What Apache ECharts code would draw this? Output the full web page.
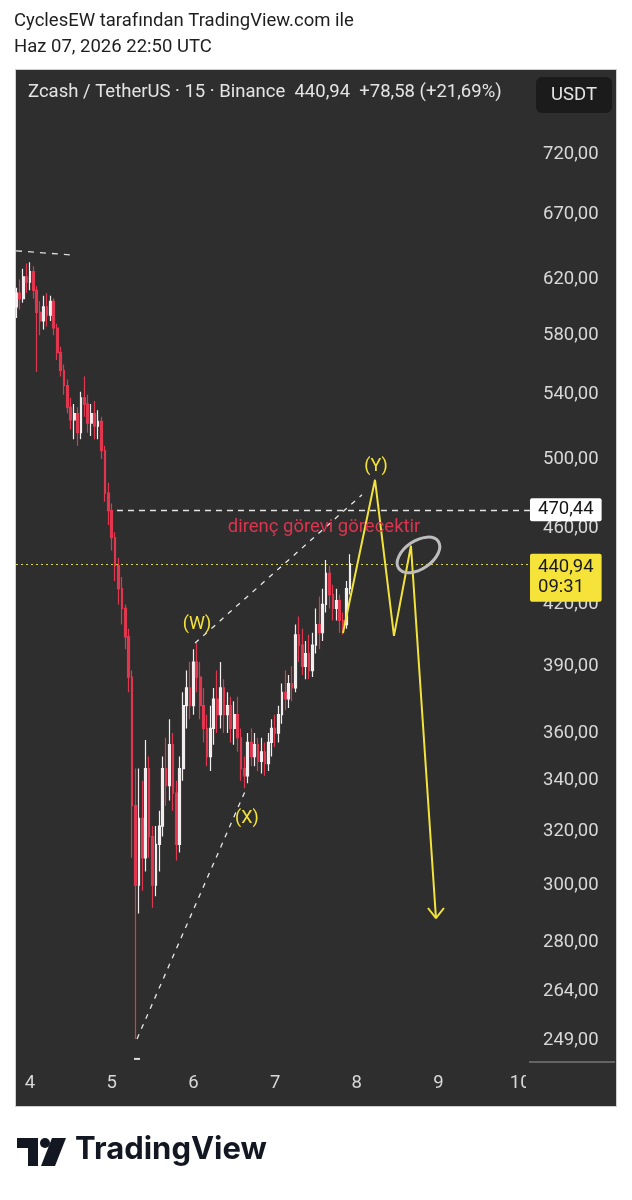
<!DOCTYPE html>
<html><head><meta charset="utf-8">
<script src="https://cdn.jsdelivr.net/npm/echarts@6/dist/echarts.min.js"></script>
<style>
html,body{margin:0;padding:0;background:#fff;}
#box{position:absolute;left:15px;top:69px;width:600px;height:1036px;background:#2e2e2e;border:1px solid #cfcfcf;}
#c{position:absolute;left:0;top:0;width:632px;height:1200px;}
</style></head><body>
<div id="box"></div>
<div id="c"></div>
<script>
// ---- data (ZEC/USDT, hourly approximation of the 15m chart, June 2026 day-of-month on x) ----
const startDay = 3.8333;           // June 3, 20:00 UTC
const stepDay = 1 / 24;            // one hour
const open = [600,610,606,622,618,626,612,596,590,600, 594,604,585,568,556,546,532,524,528,516,
  538,534,522,528,520,523,505,480,470,455, 440,428,418,404,385,330,300,325,310,345,
  318,300,315,322,345,338,355,335,315,345, 372,380,372,392,385,372,362,350,362,375,
  368,380,368,372,362,368,358,345,342,356, 350,355,348,352,347,356,362,360,368,378,
  375,382,380,405,400,390,396,388,400,410, 406,420,436,425,418,422,412,410,428];
const close = [610,606,622,618,626,612,596,590,600,594, 604,585,568,556,546,532,524,528,516,538,
  534,522,528,520,523,505,480,470,455,440, 428,418,404,385,330,300,325,310,345,318,
  300,315,322,345,338,355,335,315,345,372, 380,372,392,385,372,362,350,362,375,368,
  380,368,372,362,368,358,345,342,356,350, 355,348,352,347,356,362,360,368,378,375,
  382,380,405,400,390,396,388,400,410,406, 420,436,425,418,422,412,410,428,440.94];
const low = [592,598,603,610,612,606,555,580,584,586, 590,580,563,552,540,528,518,512,508,512,
  526,516,514,512,512,500,475,462,448,432, 420,410,398,378,310,249.5,290,298,305,310,
  292,296,305,318,330,332,328,309,312,340, 362,366,368,378,366,356,346,344,355,360,
  362,360,360,356,355,352,340,337,339,346, 346,344,343,342,344,350,354,356,364,370,
  371,374,378,392,386,384,384,385,396,398, 402,416,418,412,412,406,405,408,425];
const high = [614,620,628,632,633,630,615,604,608,610, 608,606,588,572,560,550,538,534,532,542,
  552,540,534,536,530,526,508,486,474,458, 444,434,420,408,388,345,345,340,357,350,
  322,322,328,350,358,366,360,340,350,378, 388,392,398,401,392,380,368,372,380,388,
  392,384,378,376,374,376,362,350,360,362, 360,358,358,356,360,366,368,372,382,388,
  386,390,410,414,408,402,405,406,418,424, 428,443,440,430,428,425,416,432,446];

const xTicks = [4,5,6,7,8,9,10];
const yTicks = [720,670,620,580,540,500,460,420,390,360,340,320,300,280,264,249];
const lastPrice = 440.94;
const resLevel = 470.44;
const resStartDay = 5.065;

// annotation drawings (day, price)
const topDashT = [3.829, 4.49],  topDashV = [641.7, 638.6];
const lowerWaveT = [5.31, 6.656], lowerWaveV = [249.5, 337.5];
const upperWaveT = [6.02, 8.064], upperWaveV = [401, 479];
const projT = [7.831, 8.223, 8.455, 8.663, 8.969], projV = [405.9, 487.7, 404.5, 450.6, 288.4];
const arrowT = [8.871, 8.969, 9.067], arrowV = [291.9, 288.4, 291.9];
const waveLabels = ['(W)', '(X)', '(Y)'];
const waveLabelT = [6.044, 6.656, 8.235], waveLabelV = [409.8, 325.1, 495.3];
const noteText = 'direnç görevi görecektir';
const noteT = 7.599, noteV = 460.9;
const circleT = 8.755, circleV = 445.7;
const lowMarkT = 5.31, lowMarkV = 243.6;

// ---- chart ----
const X_MIN = 3.829, X_MAX = 10.12;
const fmt = v => v.toFixed(2).replace('.', ',');
const times = open.map((_, i) => startDay + i * stepDay);
const candleData = open.map((o, i) => [times[i], o, close[i], low[i], high[i]]);
const pts = (ts, vs) => ts.map((t, i) => [t, vs[i]]);
const lineSeries = (ts, vs, color, type, width) => ({
  type: 'line', data: pts(ts, vs), symbol: 'none', silent: true, z: 4, clip: false,
  lineStyle: { color: color, type: type, width: width }
});
const FONT = 'Roboto';
const BG = '#2e2e2e';
const FS = 18.5;

const chart = echarts.init(document.getElementById('c'), null, { width: 632, height: 1200 });
chart.setOption({
  animation: false,
  backgroundColor: 'transparent',
  textStyle: { fontFamily: FONT },
  grid: { left: 16, top: 70, width: 514, height: 992, containLabel: false },
  xAxis: {
    type: 'value', min: X_MIN, max: X_MAX,
    axisLine: { show: false }, axisTick: { show: false }, splitLine: { show: false },
    axisLabel: { customValues: xTicks, formatter: v => String(Math.round(v)), color: '#d8d8d8', fontSize: FS, margin: 12, fontFamily: FONT }
  },
  yAxis: {
    type: 'log', logBase: 10, min: 242.7, max: 797, position: 'right',
    axisLine: { show: false }, axisTick: { show: false }, splitLine: { show: false },
    axisLabel: { customValues: yTicks, formatter: fmt, color: '#d8d8d8', fontSize: FS, margin: 13, align: 'left', fontFamily: FONT }
  },
  series: [
    {
      type: 'candlestick', data: candleData, encode: { x: 0, y: [1, 2, 3, 4] },
      barWidth: 2.2, z: 3,
      itemStyle: { color: '#f2eef0', color0: '#e0374f', borderColor: '#f2eef0', borderColor0: '#e0374f', borderWidth: 1.2 },
      markLine: {
        symbol: 'none', silent: true, animation: false,
        data: [
          [
            { coord: [resStartDay, resLevel], lineStyle: { color: '#e4e4e4', type: [6, 5], width: 1.3 },
              label: { show: true, position: 'end', distance: 0, formatter: fmt(resLevel), backgroundColor: '#ffffff', color: '#151515',
                       fontSize: FS, fontFamily: FONT, padding: [2, 8, 2, 8], borderRadius: 2 } },
            { coord: [X_MAX, resLevel] }
          ],
          { yAxis: lastPrice, lineStyle: { color: '#dcd54a', type: [2, 3], width: 1 },
            label: { show: true, position: 'end', distance: 0, formatter: fmt(lastPrice) + '\n09:31', backgroundColor: '#f6e33a', color: '#1a1a1a',
                     fontSize: FS, lineHeight: 20, fontFamily: FONT, padding: [4, 8, 4, 8], borderRadius: 2, offset: [0, 14] } }
        ]
      }
    },
    lineSeries(topDashT, topDashV, '#dcdcdc', [6, 6], 1.3),
    lineSeries(lowerWaveT, lowerWaveV, '#e8e8e8', [5, 6], 1.3),
    lineSeries(upperWaveT, upperWaveV, '#e8e8e8', [5, 6], 1.3),
    lineSeries(projT, projV, '#f1e23c', 'solid', 2),
    lineSeries(arrowT, arrowV, '#f1e23c', 'solid', 2),
    {
      type: 'scatter', data: pts(waveLabelT, waveLabelV), symbolSize: 1, itemStyle: { color: 'transparent', opacity: 1 }, z: 6, silent: true,
      label: { show: true, position: 'inside', formatter: p => waveLabels[p.dataIndex], color: '#f5e33a', textBorderWidth: 0, fontSize: 18, fontFamily: FONT }
    },
    {
      type: 'scatter', data: [[noteT, noteV]], symbolSize: 1, itemStyle: { color: 'transparent', opacity: 1 }, z: 6, silent: true,
      label: { show: true, position: 'inside', formatter: noteText, color: '#dc3550', textBorderWidth: 0, fontSize: 18.5, fontFamily: FONT }
    },
    {
      type: 'scatter', data: [[lowMarkT, lowMarkV]], symbol: 'rect', symbolSize: [6, 2], clip: false,
      itemStyle: { color: '#dddddd', opacity: 1 }, silent: true, z: 5
    },
    {
      type: 'custom', data: [[circleT, circleV]], silent: true, z: 7, clip: false,
      renderItem: (params, api) => {
        const p = api.coord([api.value(0), api.value(1)]);
        return { type: 'ellipse', x: p[0], y: p[1], rotation: 0.6,
                 shape: { cx: 0, cy: 0, rx: 24, ry: 14 },
                 style: { fill: 'none', stroke: '#bdbdbd', lineWidth: 3 } };
      }
    }
  ],
  graphic: [
    { type: 'text', left: 14, top: 12, z: 100, style: { text: 'CyclesEW tarafından TradingView.com ile', fill: '#1e1e1e', font: '18.5px Roboto' } },
    { type: 'text', left: 14, top: 38, z: 100, style: { text: 'Haz 07, 2026 22:50 UTC', fill: '#1e1e1e', font: '18.5px Roboto' } },
    { type: 'text', left: 28, top: 83, z: 100, style: { text: 'Zcash / TetherUS · 15 · Binance  440,94  +78,58 (+21,69%)', fill: '#e4e4e4', font: '18.5px Roboto' } },
    { type: 'rect', shape: { x: 536, y: 77, width: 76, height: 36, r: 6 }, z: 100, style: { fill: '#1b1b1b' } },
    { type: 'text', x: 574, y: 95, z: 101, style: { text: 'USDT', fill: '#e4e4e4', font: '18.5px Roboto', align: 'center', verticalAlign: 'middle' } },
    { type: 'rect', shape: { x: 526, y: 1063, width: 89, height: 42 }, z: 100, style: { fill: BG } },
    { type: 'line', shape: { x1: 529, y1: 1062, x2: 615, y2: 1062 }, z: 100, style: { stroke: '#9a9a9a', lineWidth: 1 } },
    // TradingView logo
    { type: 'polygon', shape: { points: [[17,1138],[38,1138],[38,1166],[28,1166],[28,1148],[17,1148]] }, z: 100, style: { fill: '#131722' } },
    { type: 'circle', shape: { cx: 45, cy: 1143, r: 5 }, z: 100, style: { fill: '#131722' } },
    { type: 'polygon', shape: { points: [[52,1138],[66,1138],[55,1166],[41,1166]] }, z: 100, style: { fill: '#131722' } },
    { type: 'text', left: 75, top: 1134, z: 100, style: { text: 'TradingView', fill: '#131722', font: 'bold 31px Inter' } }
  ]
});
</script>
</body></html>
